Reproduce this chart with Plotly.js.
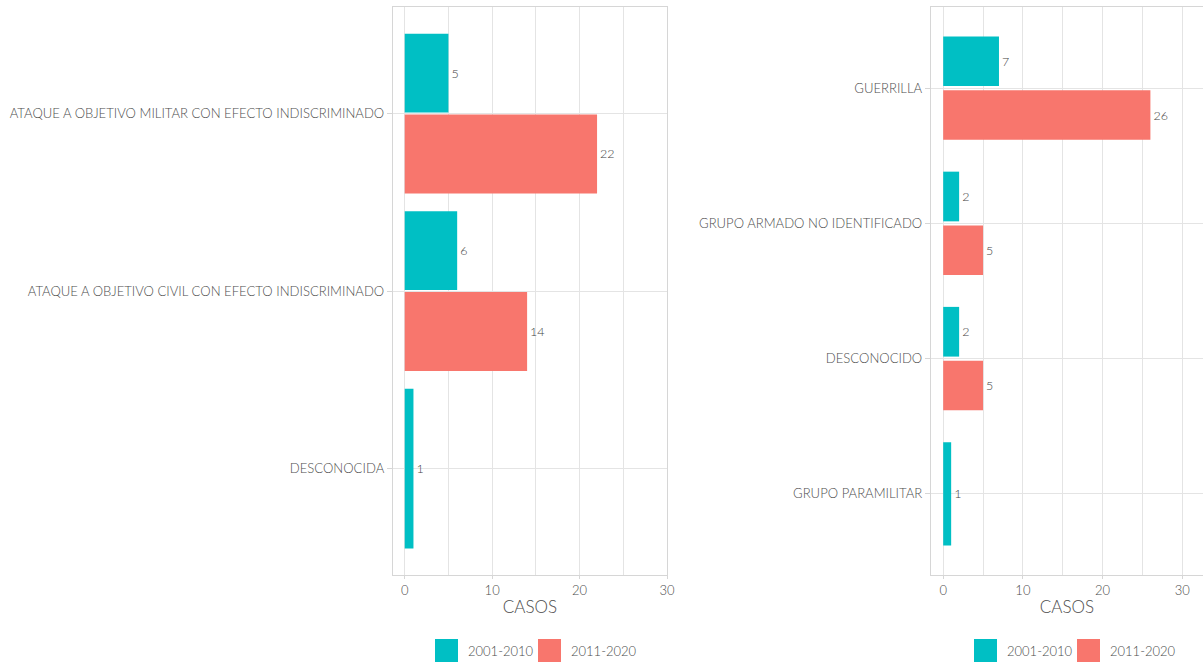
<!DOCTYPE html>
<html>
<head>
<meta charset="utf-8">
<script src="https://cdn.plot.ly/plotly-3.0.1.min.js"></script>
<style>html,body{margin:0;padding:0;background:#fff;}#chart{width:1203px;height:662px;}</style>
</head>
<body>
<div id="chart"></div>
<script>
// ---- data ----
const catsA = ['ATAQUE A OBJETIVO MILITAR CON EFECTO INDISCRIMINADO', 'ATAQUE A OBJETIVO CIVIL CON EFECTO INDISCRIMINADO', 'DESCONOCIDA'];
const a2001 = [5, 6, 1];
const a2011 = [22, 14, null];
const catsB = ['GUERRILLA', 'GRUPO ARMADO NO IDENTIFICADO', 'DESCONOCIDO', 'GRUPO PARAMILITAR'];
const b2001 = [7, 2, 2, 1];
const b2011 = [26, 5, 5, null];
const seriesNames = ['2001-2010', '2011-2020'];
const seriesColors = ['#00BFC4', '#F8766D'];
const xTickVals = [0, 10, 20, 30];
const xTitle = 'CASOS';

// ---- layout constants ----
const W = 1203, H = 662;
const FONT = 'Lato, "Open Sans", sans-serif';
const WEIGHT = 300;
const TXT = '#4d4d4d';
const GRID = '#e4e4e4';
const FRAME = '#d6d6d6';

function dodge(vals, other, isFirst, total, gap) {
  const widths = [], offsets = [];
  vals.forEach((v, i) => {
    const solo = other[i] === null || other[i] === undefined;
    if (solo) { widths.push(total); offsets.push(-total / 2); }
    else {
      const w = (total - gap) / 2;
      widths.push(w);
      offsets.push(isFirst ? -total / 2 : gap / 2);
    }
  });
  return {widths, offsets};
}

function barTrace(cats, vals, other, idx, total, gap, xa, ya) {
  const d = dodge(vals, other, idx === 0, total, gap);
  return {
    type: 'bar', orientation: 'h', y: cats, x: vals,
    xaxis: xa, yaxis: ya, name: seriesNames[idx],
    marker: {color: seriesColors[idx]},
    width: d.widths, offset: d.offsets,
    text: vals.map(v => v === null ? '' : String(v)),
    textposition: 'outside', cliponaxis: false, constraintext: 'none',
    textfont: {family: FONT, size: 12.5, color: '#444444', weight: WEIGHT},
    showlegend: false, hoverinfo: 'x+y'
  };
}

const traces = [
  barTrace(catsA, a2001, a2011, 0, 0.9, 0.01, 'x', 'y'),
  barTrace(catsA, a2011, a2001, 1, 0.9, 0.01, 'x', 'y'),
  barTrace(catsB, b2001, b2011, 0, 0.765, 0.03, 'x2', 'y2'),
  barTrace(catsB, b2011, b2001, 1, 0.765, 0.03, 'x2', 'y2')
];

const domA = [393 / W, 667 / W];
const domB = [931 / W, 1];

function xaxis(dom, rng, anchor) {
  return {
    domain: dom, range: rng, anchor: anchor,
    tickvals: xTickVals, ticktext: xTickVals.map(String),
    showgrid: true, gridcolor: GRID, gridwidth: 1,
    minor: {tick0: 0, dtick: 5, showgrid: true, gridcolor: GRID, gridwidth: 1},
    zeroline: false, showline: true, mirror: true, linecolor: FRAME, linewidth: 1.3,
    ticks: 'outside', ticklen: 3, tickcolor: FRAME,
    tickfont: {family: FONT, size: 13, color: TXT, weight: WEIGHT},
    title: {text: xTitle, font: {family: FONT, size: 17, color: TXT, weight: WEIGHT}, standoff: 4},
    fixedrange: true
  };
}
function yaxis(cats, anchor) {
  return {
    type: 'category', categoryorder: 'array', categoryarray: cats,
    range: [cats.length - 0.4, -0.6], anchor: anchor, domain: [0, 1],
    showgrid: true, gridcolor: GRID, gridwidth: 1,
    zeroline: false, showline: true, mirror: true, linecolor: FRAME, linewidth: 1.3,
    ticks: 'outside', ticklen: 5, tickcolor: FRAME,
    tickfont: {family: FONT, size: 13.1, color: TXT, weight: WEIGHT},
    fixedrange: true
  };
}

// legend drawn as swatches + labels, one per panel
const shapes = [], annotations = [];
function addLegend(startPx) {
  const sw = 23, yTop = 639;
  let x = startPx;
  seriesNames.forEach((nm, i) => {
    shapes.push({type: 'rect', xref: 'paper', yref: 'paper',
      x0: x / W, x1: (x + sw) / W, y0: 1 - (yTop + sw - 7) / (H - 94), y1: 1 - (yTop - 7) / (H - 94),
      fillcolor: seriesColors[i], line: {width: 0}});
    annotations.push({xref: 'paper', yref: 'paper', x: (x + sw + 8) / W, y: 1 - (yTop + sw / 2 - 7) / (H - 94),
      xanchor: 'left', yanchor: 'middle', showarrow: false, text: nm,
      font: {family: FONT, size: 13, color: TXT, weight: WEIGHT}});
    x += sw + 8 + 63 + 9;
  });
}
addLegend(435);
addLegend(974);

const layout = {
  width: W, height: H,
  margin: {l: 0, r: 0, t: 7, b: 87, pad: 0},
  paper_bgcolor: '#fff', plot_bgcolor: '#fff',
  barmode: 'overlay',
  font: {family: FONT, color: TXT, weight: WEIGHT},
  xaxis: xaxis(domA, [-1.34, 30], 'y'),
  yaxis: yaxis(catsA, 'x'),
  xaxis2: xaxis(domB, [-1.53, 32.6], 'y2'),
  yaxis2: yaxis(catsB, 'x2'),
  showlegend: false,
  shapes: shapes,
  annotations: annotations
};

Plotly.newPlot('chart', traces, layout, {displayModeBar: false});
</script>
</body>
</html>
